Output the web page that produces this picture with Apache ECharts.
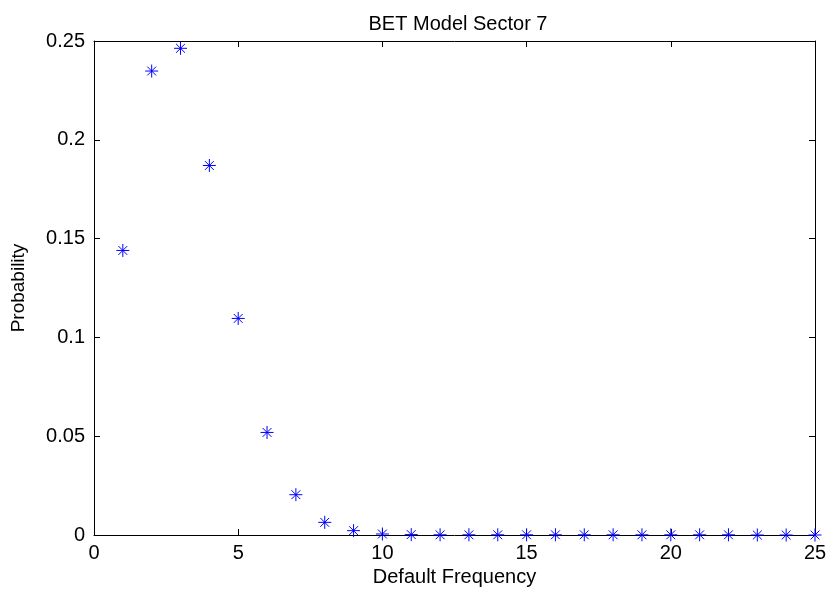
<!DOCTYPE html>
<html lang="en">
<head>
    <meta charset="UTF-8">
    <title>BET Model Sector 7</title>
    <script type="text/javascript" src="https://cdn.jsdelivr.net/npm/echarts@6/dist/echarts.min.js"></script>
    <style>
        html, body { margin: 0; padding: 0; background: #fff; }
        #chart { width: 830px; height: 591px; }
    </style>
</head>
<body>
<div id="chart"></div>
<script type="text/javascript">
    // default frequency (x) and probability (y)
    var frequency = [1, 2, 3, 4, 5, 6, 7, 8, 9, 10, 11, 12, 13, 14, 15, 16, 17, 18, 19, 20, 21, 22, 23, 24, 25];
    var probability = [0.1440, 0.2348, 0.2463, 0.1870, 0.1096, 0.0519, 0.0204, 0.0064, 0.0022, 0.0005,
        0.0002, 0.0001, 0.0001, 0.0001, 0.0001, 0.0001, 0.0001, 0.0001, 0.0001, 0.0001,
        0.0001, 0.0001, 0, 0, 0];
    var xTicks = [0, 5, 10, 15, 20, 25];
    var yTicks = [0, 0.05, 0.1, 0.15, 0.2, 0.25];

    var points = frequency.map(function (f, i) { return [f, probability[i]]; });
    var star = 'path://M0 5 L10 5 M5 0 L5 10 M1.6 1.6 L8.4 8.4 M1.6 8.4 L8.4 1.6';
    var font = 'Liberation Sans, Arial, sans-serif';

    var myChart = echarts.init(document.getElementById('chart'));

    function boxAxis(extra) {
        return Object.assign({
            axisLine: {show: true, onZero: false, lineStyle: {color: '#000', width: 1}},
            axisTick: {show: true, inside: true, length: 6, lineStyle: {color: '#000'}},
            splitLine: {show: false}
        }, extra);
    }

    var option = {
        animation: false,
        backgroundColor: '#fff',
        title: {
            text: 'BET Model Sector 7',
            left: 453, top: 9, textAlign: 'center',
            textStyle: {fontFamily: font, fontSize: 20, fontWeight: 'normal', color: '#000'}
        },
        grid: {left: 94, right: 15, top: 41, bottom: 56, containLabel: false, outerBoundsMode: 'none'},
        xAxis: [
            boxAxis({
                type: 'value', min: xTicks[0], max: xTicks[xTicks.length - 1], interval: 5,
                name: 'Default Frequency', nameLocation: 'middle', nameGap: 32,
                nameTextStyle: {fontFamily: font, fontSize: 20, color: '#000'},
                axisLabel: {fontFamily: font, fontSize: 20, color: '#000', margin: 8}
            }),
            boxAxis({
                type: 'value', position: 'top', min: xTicks[0], max: xTicks[xTicks.length - 1], interval: 5,
                axisLabel: {show: false}
            })
        ],
        yAxis: [
            boxAxis({
                type: 'value', min: yTicks[0], max: yTicks[yTicks.length - 1], interval: 0.05,
                name: 'Probability', nameLocation: 'middle', nameGap: 66, nameRotate: 90,
                nameTextStyle: {fontFamily: font, fontSize: 19, color: '#000'},
                axisLabel: {fontFamily: font, fontSize: 20, color: '#000', margin: 9}
            }),
            boxAxis({
                type: 'value', position: 'right', min: yTicks[0], max: yTicks[yTicks.length - 1], interval: 0.05,
                axisLabel: {show: false}
            })
        ],
        series: [{
            type: 'scatter',
            data: points,
            symbol: star,
            symbolSize: 13,
            clip: false,
            itemStyle: {color: 'rgba(0,0,0,0)', borderColor: '#0000ff', borderWidth: 1, opacity: 1}
        }]
    };

    myChart.setOption(option);
</script>
</body>
</html>
